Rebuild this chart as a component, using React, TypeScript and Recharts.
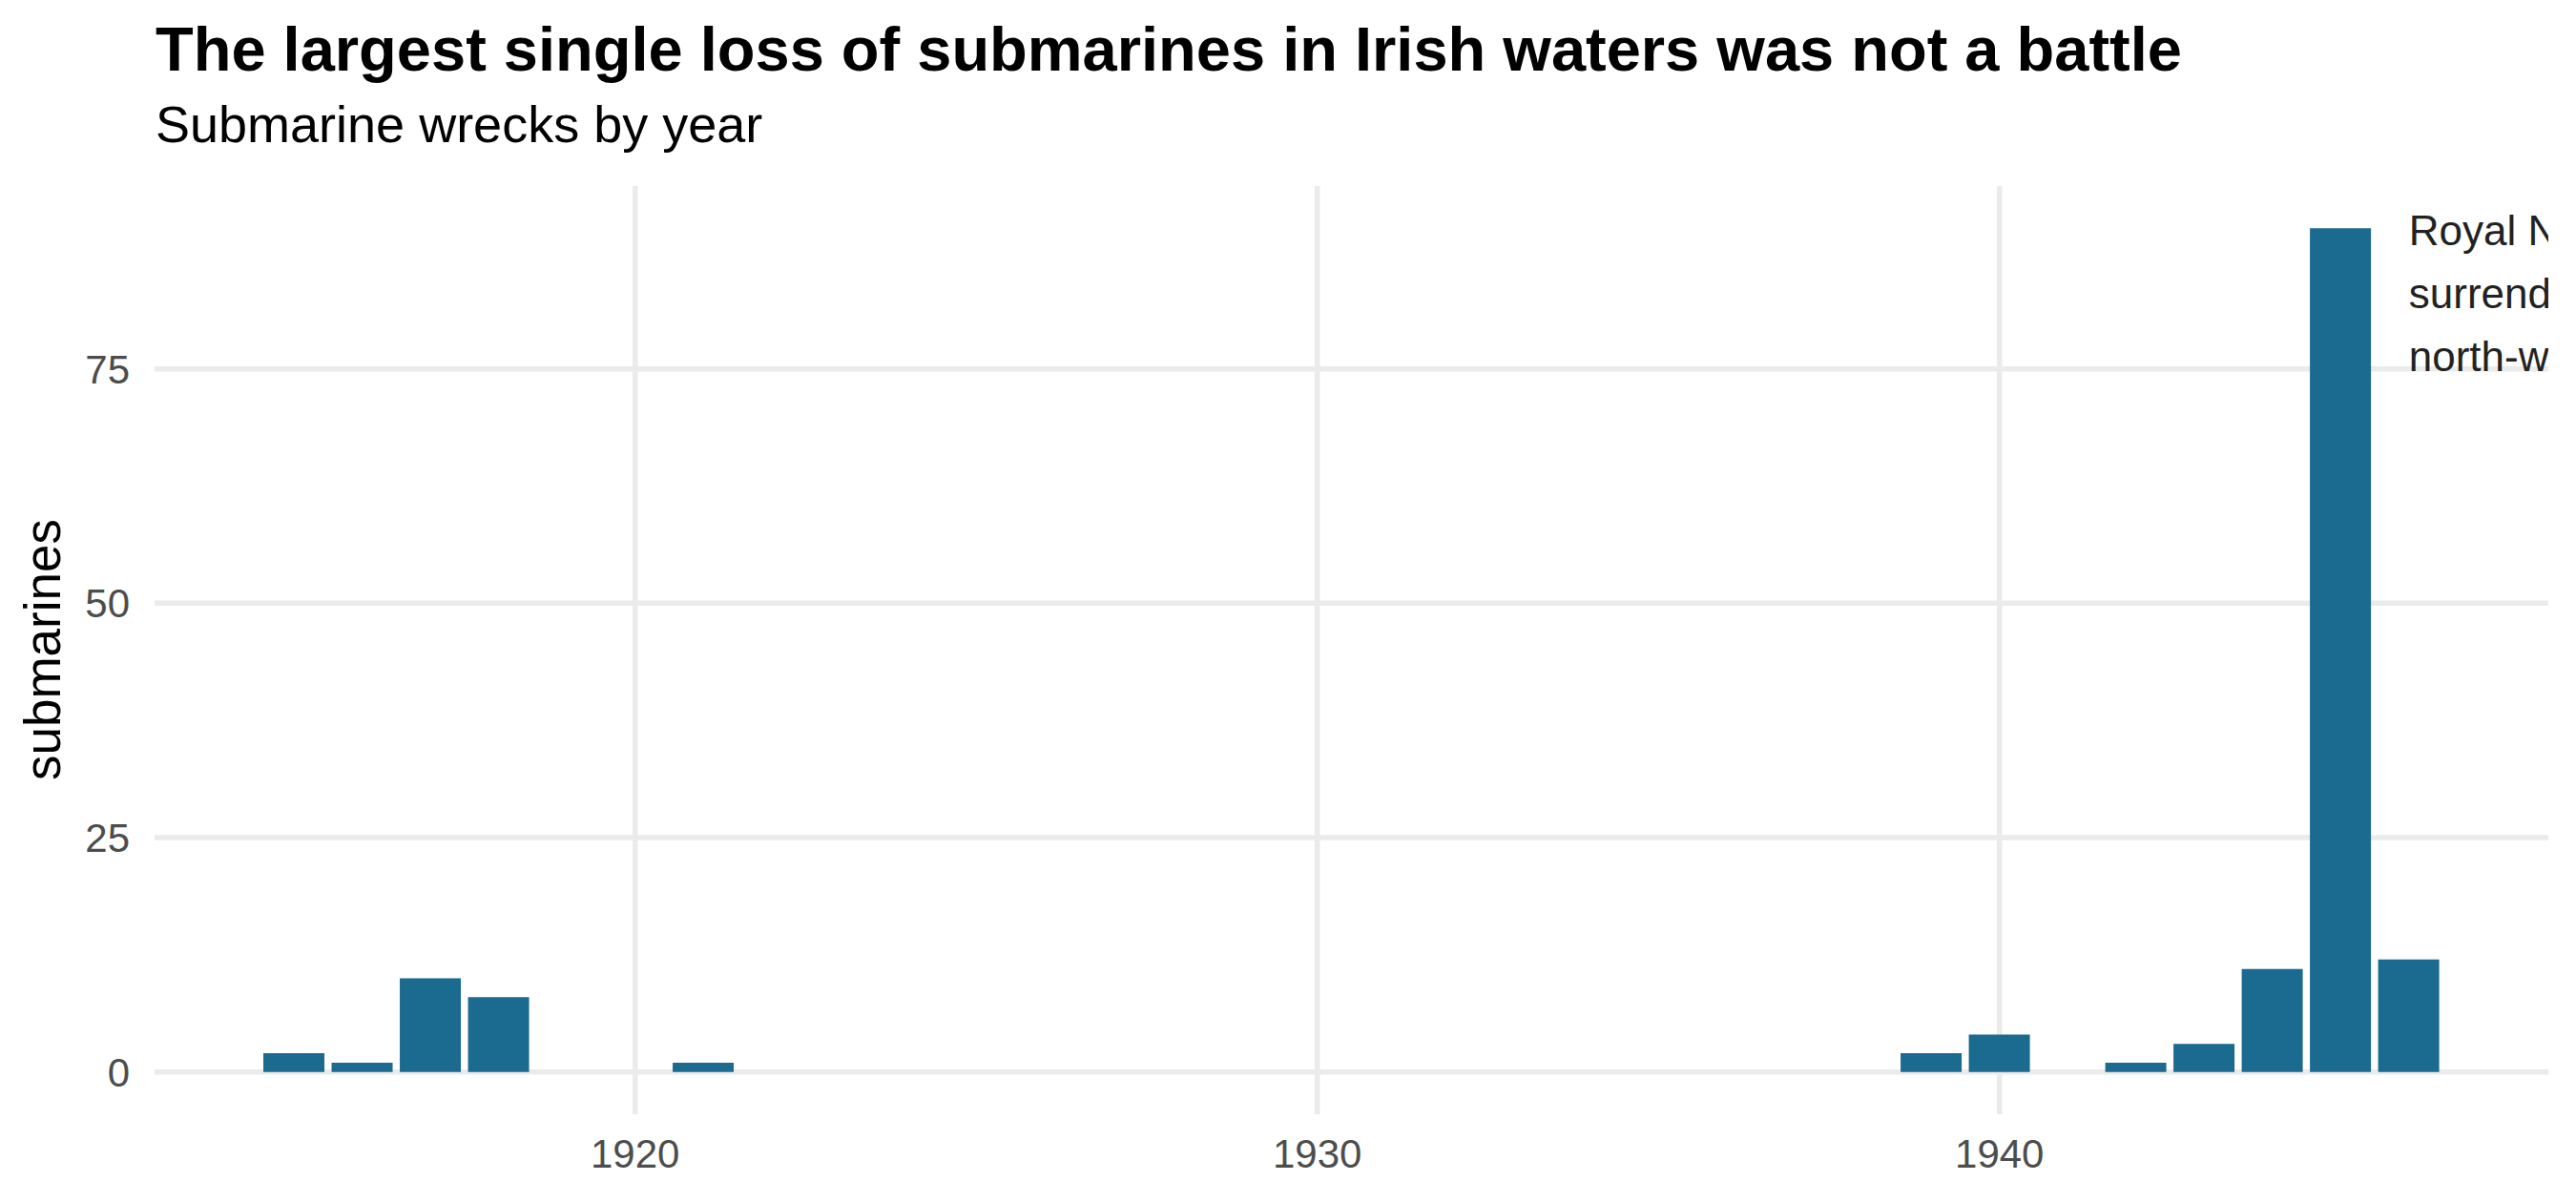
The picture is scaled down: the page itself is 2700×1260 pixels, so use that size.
import React from 'react';
import { BarChart, Bar, XAxis, YAxis, CartesianGrid, ReferenceDot } from 'recharts';

const years = [1915, 1916, 1917, 1918, 1921, 1939, 1940, 1942, 1943, 1944, 1945, 1946];
const wrecks = [2, 1, 10, 8, 1, 2, 4, 1, 3, 11, 90, 12];
const xTicks = [1920, 1930, 1940];
const yTicks = [0, 25, 50, 75];
const xDomain = [1912.955, 1948.045];
const yDomain = [-4.5, 94.5];

const titleText = 'The largest single loss of submarines in Irish waters was not a battle';
const subtitleText = 'Submarine wrecks by year';
const yAxisTitle = 'submarines';
const noteLines = ['Royal Navy scuttled', 'surrendered U-boats', 'north-west of Ireland'];
const noteX = 1946;
const noteY = 90;

const data = years.map((year, i) => ({ year, submarines: wrecks[i] }));

const FONT = '"Liberation Sans", Arial, Helvetica, sans-serif';
const W = 2700;
const H = 1260;
const MARGIN = { top: 195, right: 29, bottom: 0, left: 0 };

const NoteText = (props: any) => {
  const { cx, cy } = props;
  if (cx == null || cy == null) return null;
  return (
    <g>
      <defs>
        <clipPath id="note-clip">
          <rect x={0} y={0} width={W - MARGIN.right} height={H} />
        </clipPath>
      </defs>
      <text x={cx} y={cy + 18} fontFamily={FONT} fontSize={44} fill="#222222" clipPath="url(#note-clip)">
        {noteLines.map((line, i) => (
          <tspan key={i} x={cx} dy={i === 0 ? 0 : 66}>
            {line}
          </tspan>
        ))}
      </text>
    </g>
  );
};

const applyScale = (scale: any, v: number) => {
  if (typeof scale === 'function') return scale(v);
  if (scale && typeof scale.map === 'function') return scale.map(v);
  if (scale && typeof scale.apply === 'function') return scale.apply(v);
  return undefined;
};

const vGen = (args: any) => {
  const off = args?.offset;
  return xTicks.map((t) => {
    const s = applyScale(args?.xAxis?.scale, t);
    if (typeof s === 'number' && !isNaN(s)) return s;
    return off.left + ((t - xDomain[0]) / (xDomain[1] - xDomain[0])) * off.width;
  });
};
const hGen = (args: any) => {
  const off = args?.offset;
  return yTicks.map((t) => {
    const s = applyScale(args?.yAxis?.scale, t);
    if (typeof s === 'number' && !isNaN(s)) return s;
    return off.top + off.height - ((t - yDomain[0]) / (yDomain[1] - yDomain[0])) * off.height;
  });
};

export default function App() {
  return (
    <div style={{ position: 'absolute', left: 0, top: 0, width: W, height: H, background: '#ffffff' }}>
      <BarChart width={W} height={H} data={data} margin={MARGIN} barCategoryGap="5%">
        <CartesianGrid
          stroke="#EBEBEB"
          strokeWidth={5.5}
          horizontal
          vertical
          verticalCoordinatesGenerator={vGen}
          horizontalCoordinatesGenerator={hGen}
        />
        <XAxis
          type="number"
          dataKey="year"
          domain={xDomain}
          ticks={xTicks}
          allowDataOverflow
          interval={0}
          axisLine={false}
          tickLine={false}
          tickSize={0}
          tickMargin={26}
          height={92}
          tick={{ fill: '#4D4D4D', fontSize: 42, fontFamily: FONT }}
        />
        <YAxis
          type="number"
          domain={yDomain}
          ticks={yTicks}
          allowDataOverflow
          interval={0}
          axisLine={false}
          tickLine={false}
          tickSize={0}
          tickMargin={26}
          width={162}
          tick={{ fill: '#4D4D4D', fontSize: 42, fontFamily: FONT }}
        />
        <Bar dataKey="submarines" fill="#1B6A8F" isAnimationActive={false} />
        <ReferenceDot
          x={noteX}
          y={noteY}
          r={1}
          ifOverflow="visible"
          shape={(p: any) => <NoteText cx={p.cx} cy={p.cy} />}
        />
      </BarChart>
      <svg
        width={W}
        height={H}
        style={{ position: 'absolute', left: 0, top: 0, pointerEvents: 'none' }}
      >
        <text x={163} y={74} fontFamily={FONT} fontSize={65} fontWeight="bold" fill="#000000">
          {titleText}
        </text>
        <text x={163} y={149} fontFamily={FONT} fontSize={54} fill="#000000">
          {subtitleText}
        </text>
        <text
          transform="translate(63,681) rotate(-90)"
          textAnchor="middle"
          fontFamily={FONT}
          fontSize={53}
          fill="#000000"
        >
          {yAxisTitle}
        </text>
      </svg>
    </div>
  );
}
